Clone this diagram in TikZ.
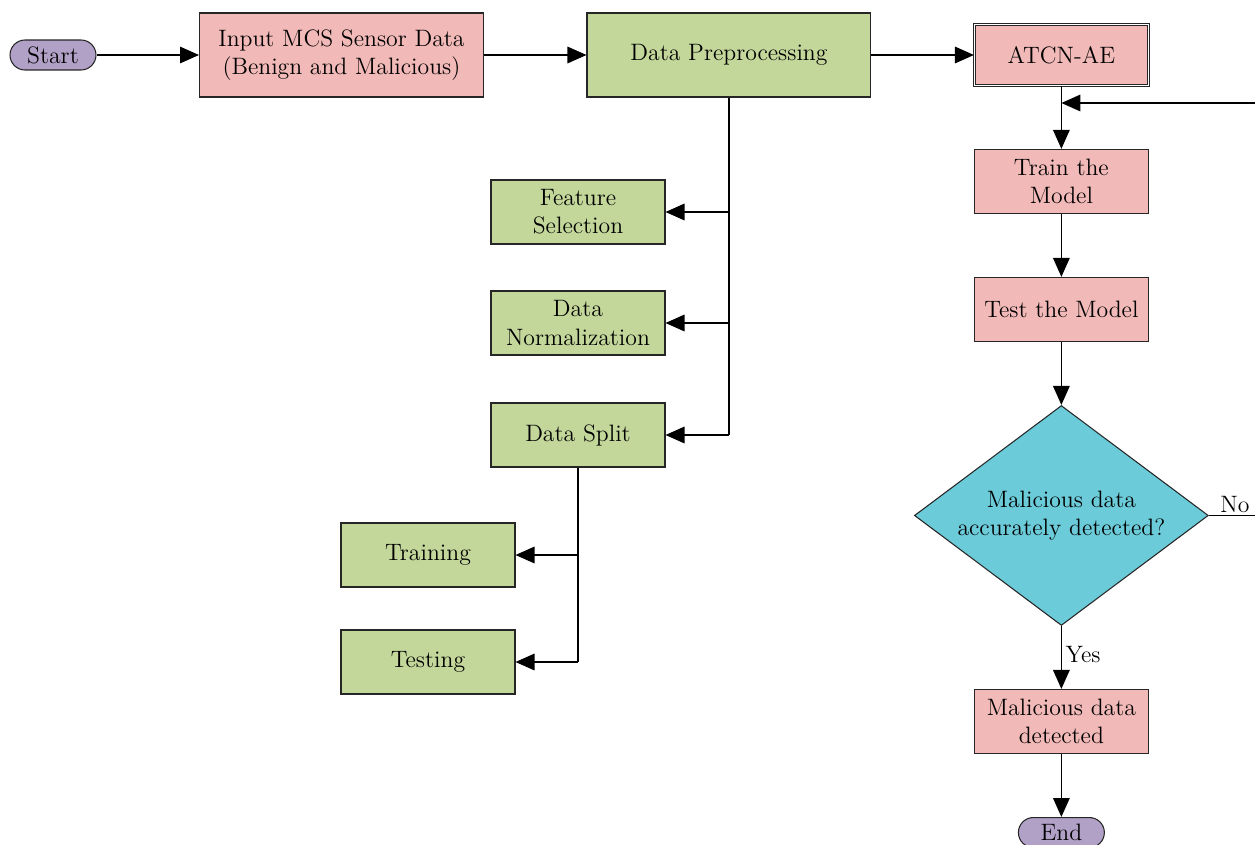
\documentclass[tikz,border=0pt]{standalone}
\usepackage{tikz}
\usetikzlibrary{positioning,arrows.meta,shapes.geometric}
\definecolor{boxpink}{RGB}{241,185,183}
\definecolor{boxgreen}{RGB}{195,215,155}
\definecolor{termpurple}{RGB}{178,161,199}
\definecolor{decblue}{RGB}{107,203,217}

\begin{document}
\begin{tikzpicture}[x=0.02cm,y=-0.02cm,
  box/.style={draw=black!85,line width=0.6pt,minimum width=3.48cm,minimum height=1.28cm,align=center,inner sep=2pt,font=\fontsize{13.5}{16}\selectfont},
  redbox/.style={box,fill=boxpink},
  greenbox/.style={box,fill=boxgreen},
  term/.style={draw=black!85,line width=0.6pt,rounded corners=0.3cm,fill=termpurple,minimum width=1.72cm,minimum height=0.6cm,inner sep=1pt,font=\fontsize{13.5}{16}\selectfont},
  decision/.style={diamond,draw=black!85,line width=0.6pt,fill=decblue,aspect=1.34,minimum width=5.88cm,minimum height=4.4cm,inner sep=0pt,align=center,font=\fontsize{13.5}{16}\selectfont},
  arr/.style={-{Triangle[length=3.8mm,width=3.3mm]},line width=0.9pt},
  lbl/.style={font=\fontsize{13.5}{16}\selectfont,inner sep=2pt},
  node distance=1.26cm and 2.05cm]
\useasboundingbox (0,0) rectangle (1255,845);
% main row
\node[term] (start) at (53,55) {Start};
\node[redbox,right=of start,minimum width=5.68cm,minimum height=1.68cm] (input) {Input MCS Sensor Data\\(Benign and Malicious)};
\node[greenbox,right=of input,minimum width=5.68cm,minimum height=1.68cm] (prep) {Data Preprocessing};
\node[redbox,right=of prep,double=white,double distance=0.9pt,line width=0.5pt,minimum height=1.22cm] (atcn) {ATCN-AE};
% model column
\node[redbox,below=of atcn] (train) {Train the\\Model};
\node[redbox,below=of train] (test) {Test the Model};
\node[decision,below=of test] (dec) {Malicious data\\accurately detected?};
\node[redbox,below=of dec] (found) {Malicious data\\detected};
\node[term,below=of found] (stop) {End};
% preprocessing steps
\node[greenbox] (feat) at (578,212) {Feature\\Selection};
\node[greenbox] (norm) at (578,323) {Data\\Normalization};
\node[greenbox] (split) at (578,435) {Data Split};
\node[greenbox] (trn) at (428,555) {Training};
\node[greenbox] (tst) at (428,662) {Testing};
\coordinate (noturn) at ([xshift=1.3cm]dec.east);
\coordinate (loopin) at (atcn.south |- 0,103);

\draw[arr] (start)--(input); \draw[arr] (input)--(prep); \draw[arr] (prep)--(atcn);
\draw[arr] (atcn)--(train); \draw[arr] (train)--(test); \draw[arr] (test)--(dec);
\draw[arr] (dec)--node[lbl,right,pos=0.45]{Yes}(found); \draw[arr] (found)--(stop);
\draw[arr] (dec.east)--node[lbl,above,inner sep=1pt,pos=0.4]{No}(noturn)|-(loopin);
\draw[line width=0.9pt] (prep.south)--(prep.south |- split.east);
\foreach \n in {feat,norm,split} \draw[arr] (prep.south |- \n.east)--(\n.east);
\draw[line width=0.9pt] (split.south)--(split.south |- tst.east);
\foreach \n in {trn,tst} \draw[arr] (split.south |- \n.east)--(\n.east);
\end{tikzpicture}
\end{document}
